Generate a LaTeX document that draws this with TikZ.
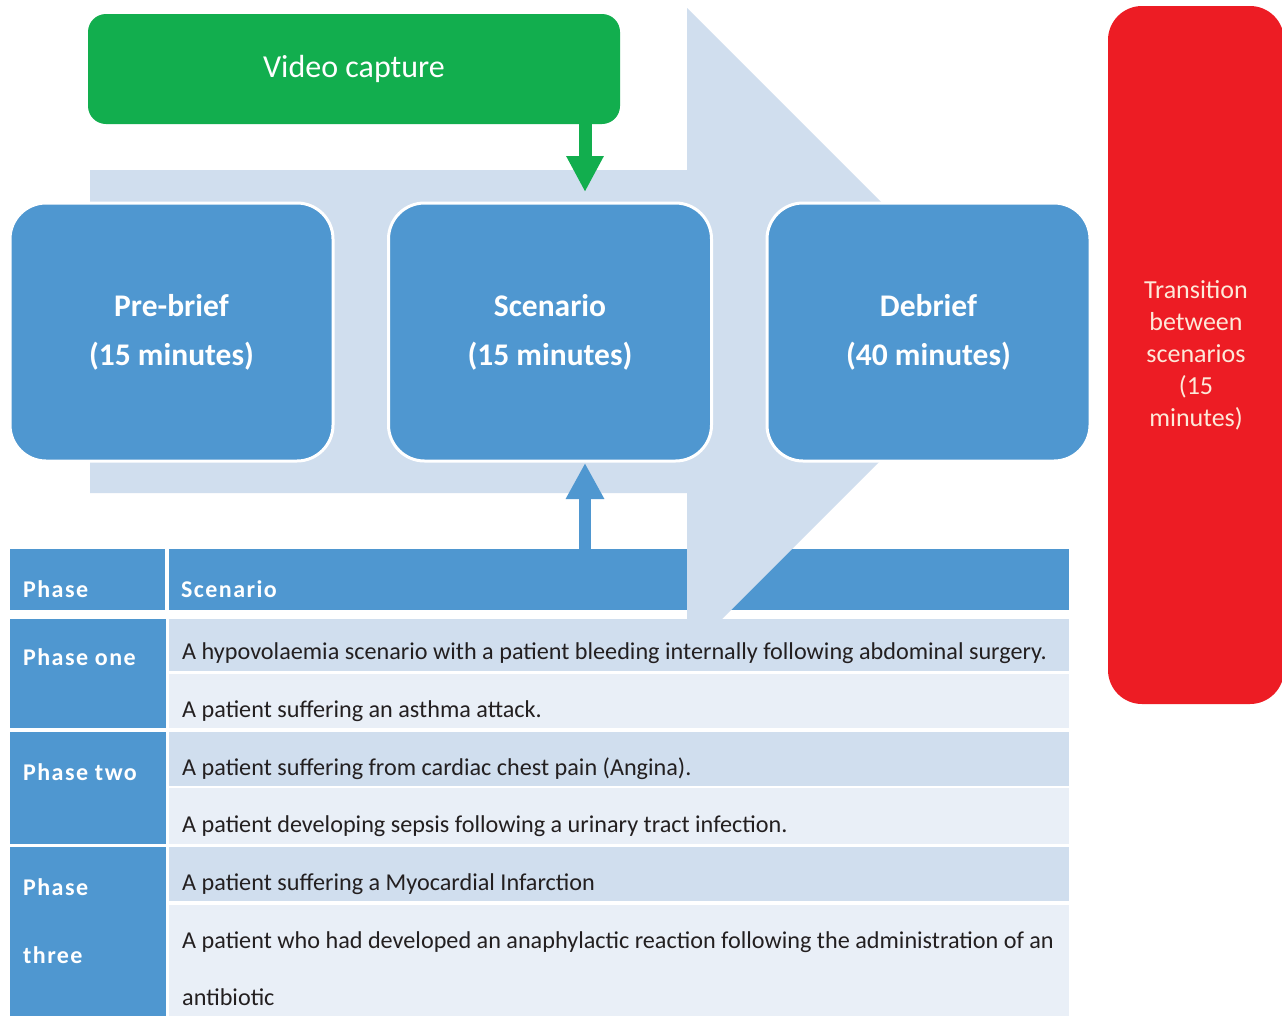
\documentclass[tikz,border=0pt]{standalone}
\usepackage{fontspec}
\setmainfont{Carlito}
\usetikzlibrary{arrows.meta}
\definecolor{boxblue}{RGB}{79,151,208}
\definecolor{arrowlight}{RGB}{208,222,238}
\definecolor{rowdark}{RGB}{208,222,238}
\definecolor{rowlight}{RGB}{233,239,247}
\definecolor{vidgreen}{RGB}{18,174,78}
\definecolor{transred}{RGB}{237,28,36}
\definecolor{peach}{RGB}{253,233,217}
\definecolor{rowtext}{RGB}{35,31,32}
\tikzset{
  stagebox/.style={rectangle, rounded corners=36pt, fill=boxblue, draw=white, line width=3pt,
    minimum width=323pt, minimum height=258pt, text=white, align=center,
    font=\fontsize{31.5}{49}\selectfont\bfseries},
  cellfill/.style={rectangle, inner sep=0pt, anchor=north west},
  phasetext/.style={anchor=base west, inner sep=0pt, text=white,
    font=\fontsize{24}{28}\selectfont\bfseries\addfontfeatures{LetterSpace=6}},
  rowtxt/.style={anchor=base west, inner sep=0pt, text=rowtext,
    font=\fontsize{24.2}{28}\selectfont},
}
\begin{document}
\begin{tikzpicture}[x=1pt,y=-1pt]
\useasboundingbox (0,0) rectangle (1282,1015);
\clip (0,0) rectangle (1282,1015);
\fill[white] (0,0) rectangle (1282,1015);

% table header
\node[cellfill, fill=boxblue, minimum width=155pt, minimum height=61pt] (hphase) at (10,549) {};
\node[cellfill, fill=boxblue, minimum width=900pt, minimum height=61pt] (hscen) at (169,549) {};

% big light arrow
\fill[arrowlight] (90,170) -- (687,170) -- (687,8) -- (1010,331) -- (687,654) -- (687,493) -- (90,493) -- cycle;

% video capture
\node[rectangle, rounded corners=18pt, fill=vidgreen, minimum width=532pt, minimum height=110pt,
  text=white, font=\fontsize{32}{36}\selectfont] (video) at (354,69) {Video capture};

% stage boxes
\node[stagebox] (pre) at (171.5,332) {Pre-brief\\(15 minutes)};
\node[stagebox] (scen) at (550,332) {Scenario\\(15 minutes)};
\node[stagebox] (deb) at (928.5,332) {Debrief\\(40 minutes)};

% green arrow
\coordinate (gstart) at (585,124);
\coordinate (gend) at (585,192);
\draw[vidgreen, line width=13pt, -{Triangle[length=36pt,width=35pt]}] (gstart) -- (gend);

% transition box
\node[rectangle, rounded corners=34pt, fill=transred, minimum width=176pt, minimum height=698pt,
  text=peach, align=center, font=\fontsize{26}{32}\selectfont] (trans) at (1196,355)
  {Transition\\between\\scenarios\\(15\\minutes)};

% up arrow
\coordinate (ustart) at (585,549);
\coordinate (uend) at (585,463);
\draw[boxblue, line width=12pt, -{Triangle[length=36pt,width=36pt]}] (ustart) -- (uend);

% table rows
\node[cellfill, fill=boxblue, minimum width=156pt, minimum height=109pt] (p1) at (10,619) {};
\node[cellfill, fill=boxblue, minimum width=156pt, minimum height=112pt] (p2) at (10,732) {};
\node[cellfill, fill=boxblue, minimum width=156pt, minimum height=170pt] (p3) at (10,847) {};

\node[cellfill, fill=rowdark, minimum width=900pt, minimum height=52pt] (r1) at (169,619) {};
\node[cellfill, fill=rowlight, minimum width=900pt, minimum height=54pt] (r2) at (169,674) {};
\node[cellfill, fill=rowdark, minimum width=900pt, minimum height=54pt] (r3) at (169,732) {};
\node[cellfill, fill=rowlight, minimum width=900pt, minimum height=56pt] (r4) at (169,788) {};
\node[cellfill, fill=rowdark, minimum width=900pt, minimum height=54pt] (r5) at (169,847) {};
\node[cellfill, fill=rowlight, minimum width=900pt, minimum height=112pt] (r6) at (169,905) {};

% header texts
\node[phasetext] (thphase) at (23,597) {Phase};
\node[phasetext] (thscen) at (181,597) {Scenario};

% phase texts
\node[phasetext] (tp1) at (23,665) {Phase one};
\node[phasetext] (tp2) at (23,780) {Phase two};
\node[phasetext] (tp3a) at (23,895) {Phase};
\node[phasetext] (tp3b) at (23,963) {three};

% row texts
\node[rowtxt] (t1) at (182,659) {A hypovolaemia scenario with a patient bleeding internally following abdominal surgery.};
\node[rowtxt] (t2) at (182,717) {A patient suffering an asthma attack.};
\node[rowtxt] (t3) at (182,775) {A patient suffering from cardiac chest pain (Angina).};
\node[rowtxt] (t4) at (182,832) {A patient developing sepsis following a urinary tract infection.};
\node[rowtxt] (t5) at (182,890) {A patient suffering a Myocardial Infarction};
\node[rowtxt] (t6) at (182,948) {A patient who had developed an anaphylactic reaction following the administration of an};
\node[rowtxt] (t7) at (182,1005) {antibiotic};
\end{tikzpicture}
\end{document}
